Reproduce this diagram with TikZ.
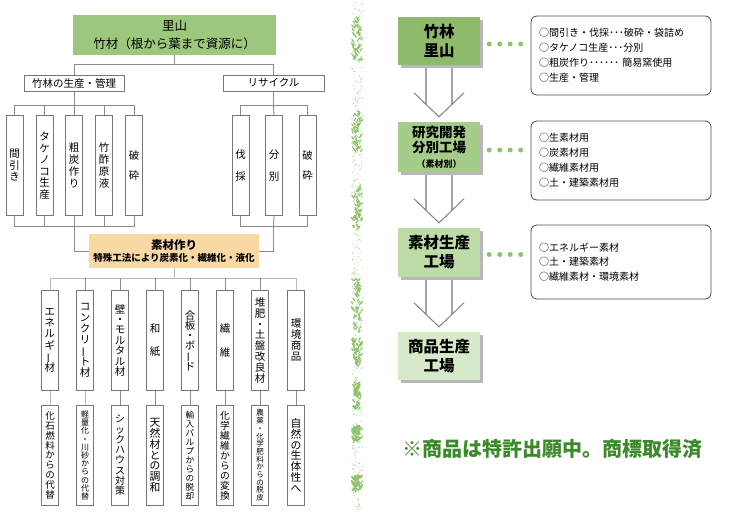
\documentclass[tikz,border=0pt]{standalone}
\usepackage{fontspec}
\setmainfont{Noto Sans CJK JP}
\usepackage{graphicx}
\usetikzlibrary{calc,shadows}
\definecolor{linegray}{HTML}{8A8A8A}
\definecolor{lightline}{HTML}{BBBBBB}
\definecolor{boxborder}{HTML}{777777}
\definecolor{topgreen}{HTML}{9CC77C}
\definecolor{gA}{HTML}{8DBB6B}
\definecolor{gB}{HTML}{A5CD89}
\definecolor{gC}{HTML}{BCDBA6}
\definecolor{gD}{HTML}{D6EAC9}
\definecolor{orangebox}{HTML}{FAD8A3}
\definecolor{dotgreen}{HTML}{8CC46A}
\definecolor{footgreen}{HTML}{3A8A2A}
\definecolor{decogreen}{HTML}{8DC26A}
\setlength{\lineskiplimit}{-100pt}
\newcommand\vbar{\rotatebox[origin=c]{90}{ー}}
\begin{document}
\begin{tikzpicture}[x=1pt,y=-1pt,
  conn/.style={draw=linegray, line width=0.9pt},
  lconn/.style={draw=lightline, line width=1pt},
  box/.style={draw=boxborder, fill=white, line width=0.8pt, inner sep=0pt},
  hbox/.style={box, minimum height=16, font=\fontsize{10.5}{12}\selectfont},
  vbox/.style={box, minimum width=17, minimum height=100, align=center, anchor=north,
     font=\fontsize{10.5}{11.5}\selectfont},
  gbox/.style={minimum width=82, align=center, inner sep=0pt,
     drop shadow={shadow xshift=3pt, shadow yshift=-3pt, fill=black!28, opacity=1},
     font=\bfseries\fontsize{15.5}{19}\selectfont},
  note/.style={draw=black!70, rounded corners=6pt, fill=white, line width=0.8pt,
     text width=164, inner xsep=8, inner ysep=0pt, align=left, minimum height=79,
     font=\fontsize{10}{15}\selectfont},
  dotline/.style={draw=dotgreen, line width=5pt, line cap=round, dash pattern=on 0pt off 10.5pt},
  shaft/.style={draw=black!35, line width=1.2pt},
  chev/.style={draw=black!50, line width=1pt}
]
\useasboundingbox (0,0) rectangle (737,512);

% decorative stripe
\pgfmathsetseed{7}
\foreach \i in {1,...,520}{
  \pgfmathsetmacro\xx{352+11*rnd}
  \pgfmathsetmacro\yy{2+508*rnd}
  \pgfmathsetmacro\rr{0.4+0.6*rnd}
  \fill[decogreen!50] (\xx,\yy) circle (\rr);
}
\foreach \ya/\yb in {18/62,113/153,187/230,280/333,340/367,383/410,427/443,477/492}{
  \foreach \k in {1,...,55}{
    \pgfmathsetmacro\xx{353+8*rnd}
    \pgfmathsetmacro\yy{\ya+(\yb-\ya)*rnd}
    \pgfmathsetmacro\dd{rnd>0.5 ? 1 : -1}
    \draw[decogreen, line width=1.1pt] (\xx,\yy) -- ++(2*\dd,-2.6);
  }
}

% ---------- left tree ----------
\node[fill=topgreen, minimum width=203, minimum height=40, align=center, inner sep=0pt,
      font=\fontsize{12.5}{18}\selectfont] (top) at (174.5,35) {里山\\竹材（根から葉まで資源に）};
\node[hbox, minimum width=100] (kanri) at (74,83) {竹林の生産・管理};
\node[hbox, minimum width=101] (recy) at (273.5,83) {リサイクル};

\coordinate (j0) at ($(top.south)+(0,9)$);
\draw[conn] (top.south) -- (j0);
\draw[conn] (kanri.north) |- (j0) -| (recy.north);

\node[vbox] (s1) at (14.5,115) {間\\引\\き};
\node[vbox] (s2) at (44.5,115) {タ\\ケ\\ノ\\コ\\生\\産};
\node[vbox, font=\fontsize{10.5}{12}\selectfont] (s3) at (74,115) {粗\\炭\\作\\り};
\node[vbox, font=\fontsize{10.5}{12}\selectfont] (s4) at (104,115) {竹\\酢\\原\\液};
\node[vbox] (s5) at (134,115) {破\\[9pt]砕};

\node[vbox] (r1) at (240.5,115) {伐\\[10pt]採};
\node[vbox] (r2) at (274,115) {分\\[10pt]別};
\node[vbox] (r3) at (307.5,115) {破\\[9pt]砕};

\coordinate (jA) at ($(kanri.south)+(0,14)$);
\draw[conn] (kanri.south) -- (jA);
\draw[conn] (s1.north) |- (jA) -| (s5.north);
\foreach \n in {s2,s3,s4} \draw[conn] (\n.north) -- (\n.north |- jA);

\coordinate (jC) at ($(recy.south)+(0,14)$);
\draw[conn] (recy.south) -- (jC);
\draw[conn] (r1.north) |- (jC) -| (r3.north);
\draw[conn] (r2.north) -- (jC);

\node[fill=orangebox, minimum width=170, minimum height=34, align=center, inner sep=0pt] (sozai) at (174,251)
  {{\bfseries\fontsize{11.5}{16}\selectfont 素材作り}\\{\bfseries\fontsize{9.5}{12}\selectfont 特殊工法により炭素化・繊維化・液化}};

\coordinate (jB) at ($(kanri.south)+(0,135)$);
\draw[conn] (s1.south) |- (jB) -| (s5.south);
\foreach \n in {s2,s3,s4} \draw[conn] (\n.south) -- (\n.south |- jB);
\draw[conn] (jB) |- (sozai.west);

\coordinate (jD) at ($(recy.south)+(0,135)$);
\draw[conn] (r1.south) |- (jD) -| (r3.south);
\draw[conn] (r2.south) -- (jD);
\draw[conn] (jD) |- (sozai.east);

% materials
\node[vbox, font=\fontsize{10.5}{11.2}\selectfont] (m1) at (50,290) {エ\\ネ\\ル\\ギ\\\vbar\\材};
\node[vbox, font=\fontsize{10.5}{10.9}\selectfont] (m2) at (85,290) {コ\\ン\\ク\\リ\\\vbar\\ト\\材};
\node[vbox, font=\fontsize{10.5}{10.4}\selectfont] (m3) at (120,290) {壁\\・\\モ\\ル\\タ\\ル\\材};
\node[vbox] (m4) at (155,290) {和\\[12pt]紙};
\node[vbox, font=\fontsize{10.5}{10.2}\selectfont] (m5) at (190,290) {合\\板\\・\\ボ\\\vbar\\ド};
\node[vbox] (m6) at (225,290) {繊\\[13pt]維};
\node[vbox, font=\fontsize{10.5}{10.9}\selectfont] (m7) at (260,290) {堆\\肥\\・\\土\\盤\\改\\良\\材};
\node[vbox, font=\fontsize{10.5}{11}\selectfont] (m8) at (296,290) {環\\境\\商\\品};

\coordinate (busM) at ($(sozai.south)+(0,10)$);
\draw[lconn] (sozai.south) -- (busM);
\draw[lconn] (m1.north) |- (busM) -| (m8.north);
\foreach \n in {m2,m3,m4,m5,m6,m7} \draw[conn] (\n.north) -- (\n.north |- busM);

% bottom effects
\node[vbox, font=\fontsize{9.5}{9.8}\selectfont] (b1) at (50,405) {化\\石\\燃\\料\\か\\ら\\の\\代\\替};
\node[vbox, font=\fontsize{8}{8.2}\selectfont] (b2) at (85,405) {軽\\量\\化\\・\\川\\砂\\か\\ら\\の\\代\\替};
\node[vbox, font=\fontsize{10}{10.3}\selectfont] (b3) at (120,405) {シ\\ッ\\ク\\ハ\\ウ\\ス\\対\\策};
\node[vbox, font=\fontsize{10.8}{10.8}\selectfont] (b4) at (155,405) {天\\然\\材\\と\\の\\調\\和};
\node[vbox, font=\fontsize{8.6}{9}\selectfont] (b5) at (190,405) {輸\\入\\パ\\ル\\プ\\か\\ら\\の\\脱\\却};
\node[vbox, font=\fontsize{9.8}{10}\selectfont] (b6) at (225,405) {化\\学\\繊\\維\\か\\ら\\の\\変\\換};
\node[vbox, font=\fontsize{7.5}{7.7}\selectfont] (b7) at (260,405) {農\\薬\\・\\化\\学\\肥\\料\\か\\ら\\の\\脱\\皮};
\node[vbox, font=\fontsize{10.8}{10.8}\selectfont] (b8) at (296,405) {自\\然\\の\\生\\体\\性\\へ};

\draw[lconn] (m1.south) -- (b1.north);
\draw[lconn] (m2.south) -- (b2.north);
\foreach \i in {3,...,8} \draw[conn] (m\i.south) -- (b\i.north);

% ---------- right flow ----------
\node[gbox, fill=gA, minimum height=48] (g1) at (439,41) {竹林\\里山};
\node[gbox, fill=gB, minimum height=50, font=\bfseries\fontsize{13.5}{15}\selectfont] (g2) at (439,147)
  {研究開発\\分別工場\\{\fontsize{9}{15}\selectfont （素材別）}};
\node[gbox, fill=gC, minimum height=49] (g3) at (439,252.5) {素材生産\\工場};
\node[gbox, fill=gD, minimum height=48] (g4) at (439,356) {商品生産\\工場};

\node[note] (n1) at (621,55.5) {○間引き・伐採･･･破砕・袋詰め\\○タケノコ生産･･･分別\\○粗炭作り･･････ 簡易窯使用\\○生産・管理};
\node[note] (n2) at (621,160.5) {○生素材用\\○炭素材用\\○繊維素材用\\○土・建築素材用};
\node[note, minimum height=74, font=\fontsize{10}{14.5}\selectfont] (n3) at (621,262) {○エネルギー素材\\○土・建築素材\\○繊維素材・環境素材\\[6pt]};

\draw[dotline] ($(g1.east)+(9,3)$) -- ($(n1.west |- g1.east)+(-9,3)$);
\draw[dotline] ($(g2.east)+(9,3)$) -- ($(n2.west |- g2.east)+(-9,3)$);
\draw[dotline] ($(g3.east)+(9,2)$) -- ($(n3.west |- g3.east)+(-9,2)$);

% arrows
\foreach \a/\b in {g1/g2,g2/g3,g3/g4}{
  \coordinate (t) at ($(\b.north)+(0,-5)$);
  \draw[shaft] ($(\a.south)+(-13,3)$) -- ($(t)+(-13,-12.5)$);
  \draw[shaft] ($(\a.south)+(13,3)$) -- ($(t)+(13,-12.5)$);
  \draw[chev] ($(t)+(-25,-24)$) -- (t) -- ($(t)+(25,-24)$);
}

\node[text=footgreen, font=\bfseries\fontsize{20}{22}\selectfont, inner sep=0pt] (foot) at (552,449) {※商品は特許出願中。商標取得済};
\end{tikzpicture}
\end{document}
